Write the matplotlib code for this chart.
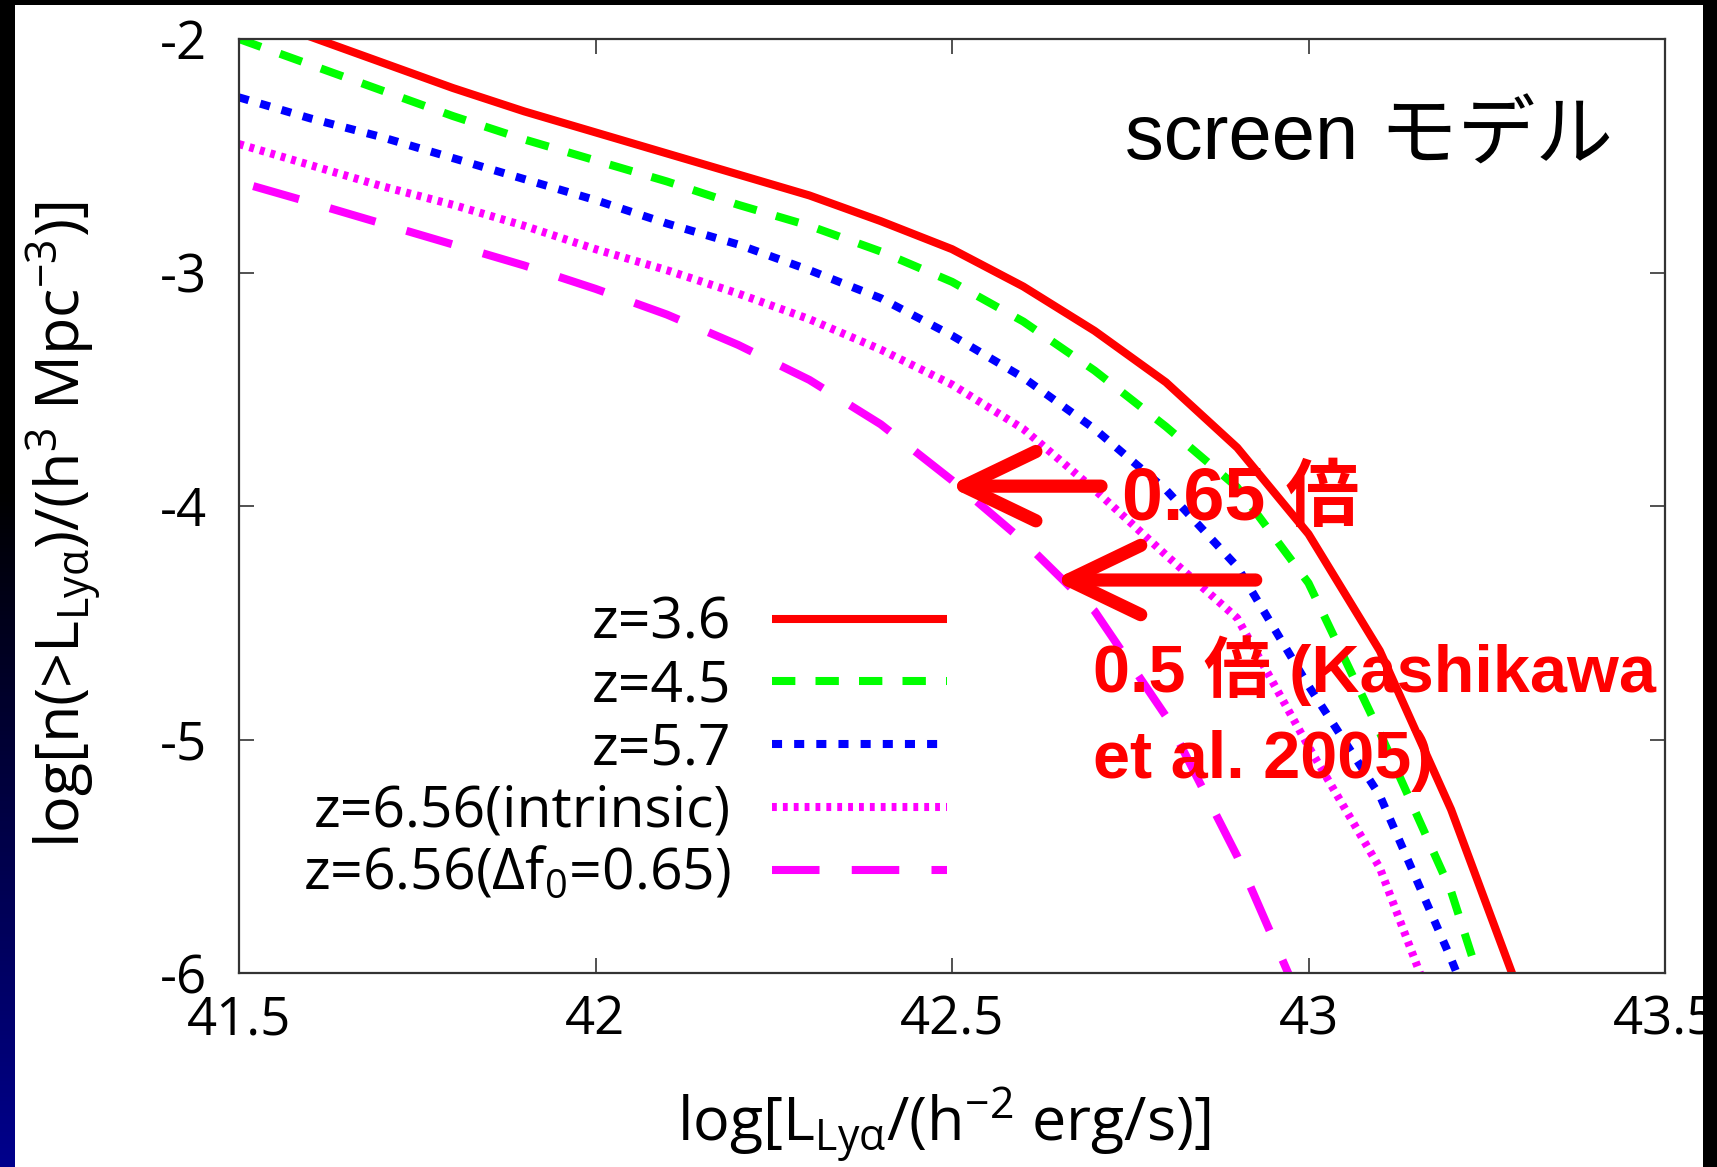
import numpy as np
import matplotlib
matplotlib.use('Agg')
import matplotlib.pyplot as plt
from matplotlib.patches import Rectangle
from matplotlib.font_manager import FontProperties

# log L_Lya grid
logL = [41.5, 41.6, 41.7, 41.8, 41.9, 42.0, 42.1, 42.2, 42.3, 42.4,
        42.5, 42.6, 42.7, 42.8, 42.9, 43.0, 43.1, 43.2, 43.3]

n_z36 = [-1.88, -1.99, -2.10, -2.21, -2.31, -2.40, -2.49, -2.58, -2.67, -2.78,
         -2.90, -3.06, -3.25, -3.47, -3.75, -4.12, -4.62, -5.30, -6.12]
n_z45 = [-2.00, -2.11, -2.22, -2.33, -2.43, -2.52, -2.61, -2.71, -2.80, -2.91,
         -3.04, -3.21, -3.42, -3.66, -3.92, -4.33, -4.97, -5.65, -6.60]
n_z57 = [-2.25, -2.34, -2.42, -2.51, -2.60, -2.69, -2.79, -2.88, -2.99, -3.11,
         -3.27, -3.45, -3.67, -3.93, -4.26, -4.77, -5.24, -5.94, -6.70]
n_z656 = [-2.45, -2.54, -2.63, -2.71, -2.80, -2.90, -2.99, -3.09, -3.20, -3.33,
          -3.48, -3.67, -3.93, -4.21, -4.48, -5.03, -5.55, -6.35, -7.00]

# z=6.56 with delta f0 = 0.65 (own grid, starts just inside the frame)
logL_f065 = [41.52, 41.6, 41.7, 41.8, 41.9, 42.0, 42.1, 42.2, 42.3, 42.4,
             42.5, 42.6, 42.7, 42.8, 42.9, 43.0]
n_f065 = [-2.63, -2.70, -2.79, -2.88, -2.97, -3.07, -3.18, -3.31, -3.46, -3.65,
          -3.89, -4.15, -4.45, -4.90, -5.50, -6.20]

labels = ['z=3.6', 'z=4.5', 'z=5.7', 'z=6.56(intrinsic)', r'z=6.56(Δf$_0$=0.65)']
xticks = [41.5, 42, 42.5, 43, 43.5]
xticklabels = ['41.5', '42', '42.5', '43', '43.5']
yticks = [-6, -5, -4, -3, -2]
yticklabels = ['-6', '-5', '-4', '-3', '-2']

plt.rcParams['mathtext.default'] = 'regular'
plt.rcParams['axes.unicode_minus'] = False

W, H = 1717, 1167
fig = plt.figure(figsize=(W / 100, H / 100), dpi=100, facecolor='black')

# slide background: white panel, black border, blue gradient strip on the left
fig.add_artist(Rectangle((14 / W, 0), (1703 - 14) / W, (H - 5) / H,
                         transform=fig.transFigure, facecolor='white',
                         edgecolor='none', zorder=-10))
gax = fig.add_axes([0, 0, 14 / W, 1])
t = np.clip((np.linspace(0, 1, 300) - 0.42) / 0.58, 0, 1)
grad = np.zeros((300, 1, 3))
grad[:, 0, 2] = 0.55 * t
gax.imshow(grad, aspect='auto', extent=(0, 1, 1, 0))
gax.axis('off')

ax = fig.add_axes([239 / W, 1 - 973 / H, (1665 - 239) / W, (973 - 39) / H])
ax.set_facecolor('white')

LW = 5.8
ax.plot(logL, n_z36, color='#ff0000', lw=LW, solid_capstyle='butt', label=labels[0])
ax.plot(logL, n_z45, color='#00ff00', lw=LW, dashes=(2.9, 2.5), label=labels[1])
ax.plot(logL, n_z57, color='#0000ff', lw=LW, dashes=(1.25, 1.5), label=labels[2])
ax.plot(logL, n_z656, color='#ff00ff', lw=LW, dashes=(0.6, 0.75), label=labels[3])
ax.plot(logL_f065, n_f065, color='#ff00ff', lw=LW, dashes=(5.9, 4.0), label=labels[4])

ax.set_xlim(41.5, 43.5)
ax.set_ylim(-6, -2)
ax.set_xticks(xticks)
ax.set_xticklabels(xticklabels)
ax.set_yticks(yticks)
ax.set_yticklabels(yticklabels)
ax.tick_params(direction='in', length=11, width=1.2, color='#333333',
               top=True, right=True, labelsize=38)
ax.tick_params(axis='x', pad=15)
ax.tick_params(axis='y', pad=23)
for lbl in ax.get_xticklabels() + ax.get_yticklabels():
    lbl.set_fontfamily('Open Sans')
for sp in ax.spines.values():
    sp.set_linewidth(1.6)
    sp.set_color('#333333')

lab_font = FontProperties(family='Open Sans', size=44)
ax.set_xlabel(r'log[L$_{Lyα}$/(h$^{-2}$ erg/s)]', fontproperties=lab_font)
ax.set_ylabel(r'log[n(>L$_{Lyα}$)/(h$^3$ Mpc$^{-3}$)]', fontproperties=lab_font)
ax.xaxis.set_label_coords(0.494, -0.121)
ax.yaxis.set_label_coords(-0.094, 0.48)

leg = ax.legend(loc='upper right', bbox_to_anchor=(0.4965, 0.404), frameon=False,
                markerfirst=False, prop=FontProperties(family='Open Sans', size=41),
                handlelength=3.07, handletextpad=0.72, labelspacing=0.1,
                borderpad=0, borderaxespad=0)

ax.text(43.085, -2.43, 'screen モデル', ha='center', va='center', fontsize=56,
        family=['Liberation Sans', 'Noto Sans CJK JP'])

red_font = ['Liberation Sans', 'Noto Sans CJK JP']
ax.text(42.738, -3.974, '0.65 倍', color='red', fontsize=53, fontweight='bold',
        ha='left', va='center', family=red_font)
ax.text(42.698, -4.553, '0.5 倍 (Kashikawa\net al. 2005)', color='red', fontsize=48,
        fontweight='bold', ha='left', va='top', linespacing=1.5,
        family=red_font, clip_on=False)

arrow = dict(arrowstyle='->,head_length=1.0,head_width=0.48', color='red', lw=9.5,
             mutation_scale=52, shrinkA=0, shrinkB=0, capstyle='round',
             joinstyle='round')
ax.annotate('', xy=(42.495, -3.915), xytext=(42.709, -3.915), arrowprops=arrow)
ax.annotate('', xy=(42.642, -4.317), xytext=(42.926, -4.317), arrowprops=arrow)

# black border on the right covers the edge of the last tick label
fig.add_artist(Rectangle((1703 / W, 0), 1, 1, transform=fig.transFigure,
                         facecolor='black', edgecolor='none', zorder=10))

plt.savefig('out.png', dpi=100, facecolor=fig.get_facecolor())
